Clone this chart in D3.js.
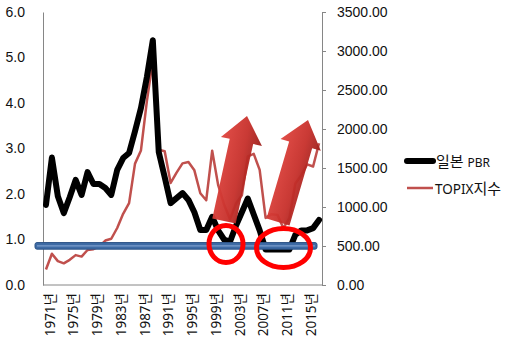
<!DOCTYPE html>
<html lang="ko">
<head>
<meta charset="UTF-8">
<title>일본 PBR / TOPIX</title>
<script src="https://d3js.org/d3.v7.min.js"></script>
<style>
  body { margin: 0; background: #fff; }
  svg { display: block; font-family: "Noto Sans", "Noto Sans CJK KR", sans-serif; }
  .axis path, .axis line { stroke: #868686; }
  .axis text { font-size: 14px; fill: #111; }
</style>
</head>
<body>
<svg id="chart" width="516" height="352"></svg>
<script>
const years = d3.range(1971, 2018);
const labelYears = [1971, 1975, 1979, 1983, 1987, 1991, 1995, 1999, 2003, 2007, 2011, 2015];
const pbr = [1.76, 2.8, 1.95, 1.58, 1.93, 2.31, 1.98, 2.48, 2.22, 2.22,
             2.13, 1.98, 2.53, 2.79, 2.9, 3.38, 3.89, 4.57, 5.38, 2.92,
             2.37, 1.8, 1.91, 2.02, 1.87, 1.6, 1.21, 1.21, 1.5, 1.2,
             1.0, 0.95, 1.3, 1.6, 1.9, 1.55, 1.2, 0.78, 0.78, 0.78,
             0.78, 0.78, 1.1, 1.2, 1.2, 1.25, 1.43];
const topix = [199, 401, 306, 278, 323, 383, 364, 449, 459, 495,
               570, 593, 731, 913, 1049, 1556, 1725, 2357, 2881, 1733,
               1715, 1308, 1440, 1559, 1577, 1470, 1176, 1087, 1722, 1284,
               1032, 843, 1044, 1150, 1650, 1681, 1476, 860, 908, 899,
               729, 860, 1302, 1408, 1547, 1519, 1818];
const leftTicks = [0, 1, 2, 3, 4, 5, 6];
const rightTicks = [0, 500, 1000, 1500, 2000, 2500, 3000, 3500];
const baseLevel = 0.86; // blue reference line (PBR)

const plotLeft = 43, plotRight = 322, plotTop = 12, plotBottom = 285;
const svg = d3.select("#chart");

const x = d3.scaleBand().domain(years).range([plotLeft, plotRight]).padding(0);
const cx = d => x(d) + x.bandwidth() / 2;
const yL = d3.scaleLinear().domain([0, 6]).range([plotBottom, plotTop]);
const yR = d3.scaleLinear().domain([0, 3500]).range([plotBottom, plotTop]);

// axes
svg.append("g").attr("class", "axis")
  .attr("transform", `translate(${plotLeft},0)`)
  .call(d3.axisLeft(yL).tickValues(leftTicks).tickSize(0).tickPadding(18).tickFormat(d3.format(".1f")));

svg.append("g").attr("class", "axis")
  .attr("transform", `translate(${plotRight},0)`)
  .call(d3.axisRight(yR).tickValues(rightTicks).tickSizeInner(4).tickSizeOuter(0).tickPadding(11).tickFormat(d3.format(".2f")));

svg.append("line")
  .attr("x1", plotLeft).attr("x2", plotRight).attr("y1", plotBottom).attr("y2", plotBottom)
  .attr("stroke", "#868686");

svg.append("g").selectAll("text")
  .data(labelYears)
  .join("text")
  .attr("transform", d => `translate(${cx(d) + 4},293) rotate(-90)`)
  .attr("text-anchor", "end")
  .attr("dy", "0.35em")
  .attr("font-size", 13.5)
  .attr("fill", "#111")
  .text(d => d + "년");

// lines
svg.append("path")
  .datum(topix)
  .attr("fill", "none")
  .attr("stroke", "#C0504D")
  .attr("stroke-width", 2.5)
  .attr("stroke-linejoin", "round")
  .attr("d", d3.line().x((d, i) => cx(years[i])).y(d => yR(d)));

svg.append("path")
  .datum(pbr)
  .attr("fill", "none")
  .attr("stroke", "#000")
  .attr("stroke-width", 6)
  .attr("stroke-linejoin", "round")
  .attr("stroke-linecap", "round")
  .attr("d", d3.line().x((d, i) => cx(years[i])).y(d => yL(d)));

// blue reference bar
const by = yL(baseLevel);
svg.append("rect")
  .attr("x", 35).attr("y", by - 3.3).attr("width", 282).attr("height", 6.6)
  .attr("rx", 2)
  .attr("fill", "#3E6BA5").attr("stroke", "#2D5487").attr("stroke-width", 1);
svg.append("line")
  .attr("x1", 37).attr("x2", 315).attr("y1", by).attr("y2", by)
  .attr("stroke", "#7B9DCD").attr("stroke-width", 1.2);

// arrows
const defs = svg.append("defs");
const grad = defs.append("linearGradient").attr("id", "arrowGrad")
  .attr("x1", "0").attr("y1", "0").attr("x2", "0").attr("y2", "1");
grad.append("stop").attr("offset", "0%").attr("stop-color", "#E0443E");
grad.append("stop").attr("offset", "60%").attr("stop-color", "#C62F2A");
grad.append("stop").attr("offset", "100%").attr("stop-color", "#9C1F1B");

const arrows = [
  { base: [224, 221], tip: [247, 116] },
  { base: [278, 222], tip: [308, 120] }
];
arrows.forEach(a => {
  const dx = a.tip[0] - a.base[0], dy = a.tip[1] - a.base[1];
  const L = Math.hypot(dx, dy), ang = Math.atan2(dy, dx) * 180 / Math.PI;
  const w = 12, H = 21, h = 26;
  const pts = [[0, -w], [L - h, -w], [L - h, -H], [L, 0], [L - h, H], [L - h, w], [0, w]];
  svg.append("polygon")
    .attr("transform", `translate(${a.base[0]},${a.base[1]}) rotate(${ang})`)
    .attr("points", pts.map(p => p.join(",")).join(" "))
    .attr("fill", "url(#arrowGrad)")
    .attr("opacity", 0.95);
});

// red circles
const rings = [
  { c: [226, 244], rx: 17, ry: 18.5 },
  { c: [283.5, 248], rx: 27, ry: 19.5 }
];
svg.append("g").selectAll("ellipse")
  .data(rings)
  .join("ellipse")
  .attr("cx", d => d.c[0]).attr("cy", d => d.c[1])
  .attr("rx", d => d.rx).attr("ry", d => d.ry)
  .attr("fill", "none").attr("stroke", "#FF0000").attr("stroke-width", 5);

// legend
const lg = svg.append("g");
lg.append("line").attr("x1", 407).attr("x2", 433).attr("y1", 161).attr("y2", 161)
  .attr("stroke", "#000").attr("stroke-width", 6).attr("stroke-linecap", "round");
const t1 = lg.append("text").attr("x", 436).attr("y", 166.5).attr("fill", "#111");
t1.append("tspan").attr("font-size", 15).text("일본 ");
t1.append("tspan").attr("font-size", 12).text("PBR");

lg.append("line").attr("x1", 407).attr("x2", 433).attr("y1", 188).attr("y2", 188)
  .attr("stroke", "#C0504D").attr("stroke-width", 2.5);
const t2 = lg.append("text").attr("x", 435).attr("y", 194).attr("fill", "#111");
t2.append("tspan").attr("font-size", 13.5).text("TOPIX");
t2.append("tspan").attr("font-size", 15).text("지수");
</script>
</body>
</html>
